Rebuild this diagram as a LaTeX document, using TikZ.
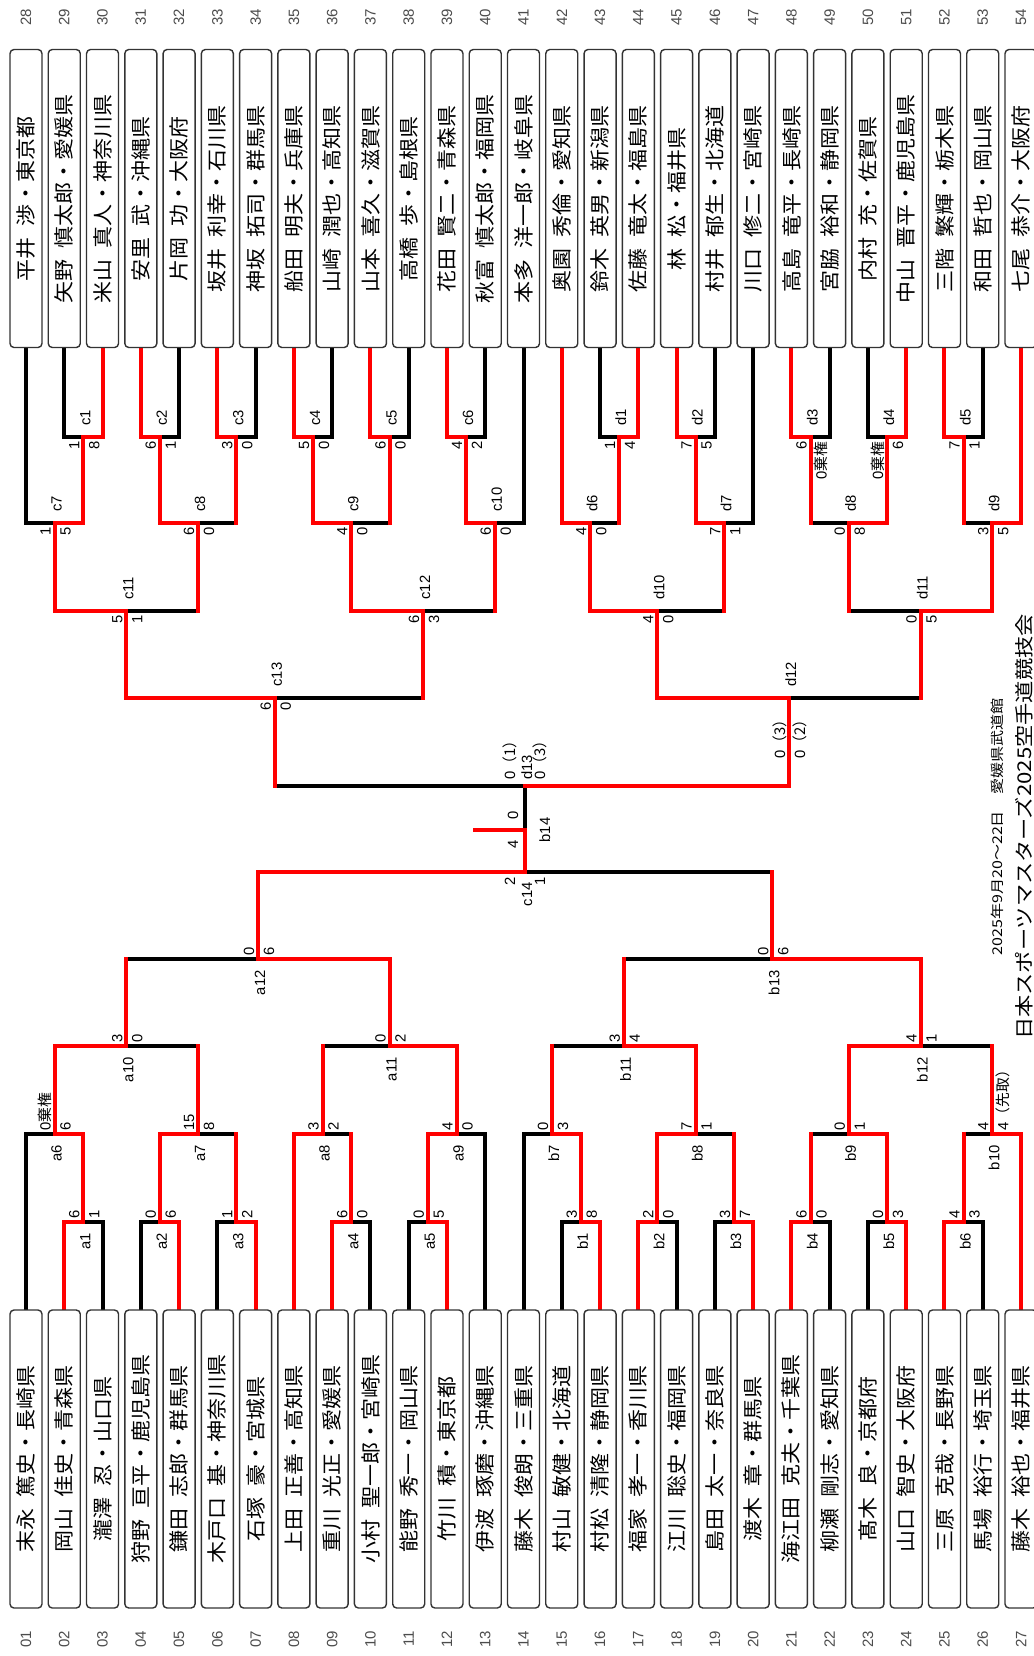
\documentclass[tikz,border=0pt]{standalone}
\usepackage{fontspec}
\usepackage{graphicx}
\setmainfont{Liberation Sans}
\newfontfamily\jp{Noto Sans CJK JP}
\usetikzlibrary{backgrounds}
\newcommand\Lm[3]{%
  \path (#1) ++(-4,-3) node[sc,anchor=base west] (#1-s1) {#2}
        (#1) ++(16,-3) node[sc,anchor=base west] (#1-s2) {#3}
        (#1) ++(7,11) node[sc,anchor=base east] (#1-lb) {#1};}
\newcommand\Rm[3]{%
  \path (#1) ++(-4,4) node[sc,anchor=base east] (#1-s1) {#2}
        (#1) ++(16,4) node[sc,anchor=base east] (#1-s2) {#3}
        (#1) ++(7,-11) node[sc,anchor=base west] (#1-lb) {#1};}
\begin{document}
\begin{tikzpicture}[x=0.5pt,y=-0.5pt,
  blkln/.style={draw=black,line width=2pt,line cap=rect,line join=miter},
  redln/.style={draw=red,line width=2pt,line cap=rect,line join=miter},
  namebox/.style={draw=black!80,fill=white,line width=0.7pt,rounded corners=2pt,rotate=90,
    minimum width=149pt,minimum height=16pt,inner sep=0pt,font=\jp\fontsize{10}{12}\selectfont},
  num/.style={rotate=90,inner sep=0pt,text=black!70,font=\fontsize{7.5}{9}\selectfont},
  sc/.style={rotate=90,inner sep=0pt,font=\fontsize{7.4}{8}\selectfont},
  ttl/.style={rotate=90,inner sep=0pt,font=\jp},
]
\useasboundingbox (0,0) rectangle (1034,1656);

% ---------- name boxes ----------
\foreach \n/\t [count=\i from 0] in {
 01/末永\hspace{.5em}篤史・長崎県, 02/岡山\hspace{.5em}佳史・青森県, 03/瀧澤\hspace{.5em}忍・山口県,
 04/狩野\hspace{.5em}亘平・鹿児島県, 05/鎌田\hspace{.5em}志郎・群馬県, 06/木戸口\hspace{.5em}基・神奈川県,
 07/石塚\hspace{.5em}豪・宮城県, 08/上田\hspace{.5em}正善・高知県, 09/重川\hspace{.5em}光正・愛媛県,
 10/小村\hspace{.5em}聖一郎・宮崎県, 11/能野\hspace{.5em}秀一・岡山県, 12/竹川\hspace{.5em}積・東京都,
 13/伊波\hspace{.5em}琢磨・沖縄県, 14/藤木\hspace{.5em}俊朗・三重県, 15/村山\hspace{.5em}敏健・北海道,
 16/村松\hspace{.5em}清隆・静岡県, 17/福家\hspace{.5em}孝一・香川県, 18/江川\hspace{.5em}聡史・福岡県,
 19/島田\hspace{.5em}太一・奈良県, 20/渡木\hspace{.5em}章・群馬県, 21/海江田\hspace{.5em}克夫・千葉県,
 22/柳瀬\hspace{.5em}剛志・愛知県, 23/髙木\hspace{.5em}良・京都府, 24/山口\hspace{.5em}智史・大阪府,
 25/三原\hspace{.5em}克哉・長野県, 26/馬場\hspace{.5em}裕行・埼玉県, 27/藤木\hspace{.5em}裕也・福井県}
{
  \node[namebox] (n\n) at ({26+\i*38.27},1459) {\scalebox{1.1}[1]{\t}};
  \node[num] (k\n) at ({26+\i*38.27},1639) {\n};
}
\foreach \n/\t [count=\i from 0] in {
 28/平井\hspace{.5em}渉・東京都, 29/矢野\hspace{.5em}慎太郎・愛媛県, 30/米山\hspace{.5em}真人・神奈川県,
 31/安里\hspace{.5em}武・沖縄県, 32/片岡\hspace{.5em}功・大阪府, 33/坂井\hspace{.5em}利幸・石川県,
 34/神坂\hspace{.5em}拓司・群馬県, 35/船田\hspace{.5em}明夫・兵庫県, 36/山崎\hspace{.5em}潤也・高知県,
 37/山本\hspace{.5em}喜久・滋賀県, 38/高橋\hspace{.5em}歩・島根県, 39/花田\hspace{.5em}賢二・青森県,
 40/秋富\hspace{.5em}慎太郎・福岡県, 41/本多\hspace{.5em}洋一郎・岐阜県, 42/奥園\hspace{.5em}秀倫・愛知県,
 43/鈴木\hspace{.5em}英男・新潟県, 44/佐藤\hspace{.5em}竜太・福島県, 45/林\hspace{.5em}松・福井県,
 46/村井\hspace{.5em}郁生・北海道, 47/川口\hspace{.5em}修二・宮崎県, 48/高島\hspace{.5em}竜平・長崎県,
 49/宮脇\hspace{.5em}裕和・静岡県, 50/内村\hspace{.5em}充・佐賀県, 51/中山\hspace{.5em}晋平・鹿児島県,
 52/三階\hspace{.5em}繁輝・栃木県, 53/和田\hspace{.5em}哲也・岡山県, 54/七尾\hspace{.5em}恭介・大阪府}
{
  \node[namebox] (n\n) at ({26+\i*38.27},198.5) {\scalebox{1.1}[1]{\t}};
  \node[num] (k\n) at ({26+\i*38.27},17) {\n};
}

% ---------- junctions ----------
\coordinate (a1) at (83.41,1222);  \coordinate (a2) at (159.95,1222);
\coordinate (a3) at (236.49,1222); \coordinate (a4) at (351.30,1222);
\coordinate (a5) at (427.84,1222);
\coordinate (a6) at (54.70,1134);  \coordinate (a7) at (198.22,1134);
\coordinate (a8) at (322.60,1134); \coordinate (a9) at (456.54,1134);
\coordinate (a10) at (126.46,1046); \coordinate (a11) at (389.57,1046);
\coordinate (a12) at (258.02,959);
\coordinate (b1) at (580.92,1222); \coordinate (b2) at (657.46,1222);
\coordinate (b3) at (734.00,1222); \coordinate (b4) at (810.54,1222);
\coordinate (b5) at (887.08,1222); \coordinate (b6) at (963.62,1222);
\coordinate (b7) at (552.22,1134); \coordinate (b8) at (695.73,1134);
\coordinate (b9) at (848.81,1134); \coordinate (b10) at (992.32,1134);
\coordinate (b11) at (623.97,1046); \coordinate (b12) at (920.57,1046);
\coordinate (b13) at (772.27,959);
\coordinate (c14) at (525,872);
\coordinate (b14) at (525,830); \coordinate (b14s) at (475,830);
\coordinate (d13) at (525,786);
\coordinate (c1) at (83.41,437);  \coordinate (c2) at (159.95,437);
\coordinate (c3) at (236.49,437); \coordinate (c4) at (313.03,437);
\coordinate (c5) at (389.57,437); \coordinate (c6) at (466.11,437);
\coordinate (c7) at (54.70,523);  \coordinate (c8) at (198.22,523);
\coordinate (c9) at (351.30,523); \coordinate (c10) at (494.81,523);
\coordinate (c11) at (126.46,611); \coordinate (c12) at (423.05,611);
\coordinate (c13) at (274.76,698);
\coordinate (d1) at (619.19,437); \coordinate (d2) at (695.73,437);
\coordinate (d3) at (810.54,437); \coordinate (d4) at (887.08,437);
\coordinate (d5) at (963.62,437);
\coordinate (d6) at (590.48,523); \coordinate (d7) at (724.43,523);
\coordinate (d8) at (848.81,523); \coordinate (d9) at (992.32,523);
\coordinate (d10) at (657.46,611); \coordinate (d11) at (920.57,611);
\coordinate (d12) at (789.01,698);

% ---------- bracket lines ----------
\begin{scope}[on background layer]
% black: losing leaves
\draw[blkln] (n01.east) |- (a6)  (n03.east) |- (a1)  (n04.east) |- (a2)
  (n06.east) |- (a3)  (n10.east) |- (a4)  (n11.east) |- (a5)  (n13.east) |- (a9)
  (n14.east) |- (b7)  (n15.east) |- (b1)  (n18.east) |- (b2)  (n19.east) |- (b3)
  (n22.east) |- (b4)  (n23.east) |- (b5)  (n26.east) |- (b6);
\draw[blkln] (n28.west) |- (c7)  (n29.west) |- (c1)  (n32.west) |- (c2)
  (n34.west) |- (c3)  (n36.west) |- (c4)  (n38.west) |- (c5)  (n40.west) |- (c6)
  (n41.west) |- (c10) (n43.west) |- (d1)  (n46.west) |- (d2)  (n47.west) |- (d7)
  (n49.west) |- (d3)  (n50.west) |- (d4)  (n53.west) |- (d5);
% black: losing halves
\draw[blkln] (a3 |- a7) -- (a7)  (a4 |- a8) -- (a8)  (a7 |- a10) -- (a10)
  (a8 |- a11) -- (a11)  (a10 |- a12) -- (a12)  (b3 |- b8) -- (b8)
  (b4 |- b9) -- (b9)  (b6 |- b10) -- (b10)  (b7 |- b11) -- (b11)
  (b10 |- b12) -- (b12)  (b11 |- b13) -- (b13)  (b13 |- c14) -- (c14)
  (c3 |- c8) -- (c8)  (c5 |- c9) -- (c9)  (c8 |- c11) -- (c11)
  (c10 |- c12) -- (c12)  (c12 |- c13) -- (c13)  (c13 |- d13) -- (d13)
  (d1 |- d6) -- (d6)  (d3 |- d8) -- (d8)  (d5 |- d9) -- (d9)
  (d7 |- d10) -- (d10)  (d8 |- d11) -- (d11)  (d11 |- d12) -- (d12)
  (b14) -- (d13);
% red: winning leaves
\draw[redln] (n02.east) |- (a1)  (n05.east) |- (a2)  (n07.east) |- (a3)
  (n08.east) |- (a8)  (n09.east) |- (a4)  (n12.east) |- (a5)  (n16.east) |- (b1)
  (n17.east) |- (b2)  (n20.east) |- (b3)  (n21.east) |- (b4)  (n24.east) |- (b5)
  (n25.east) |- (b6)  (n27.east) |- (b10);
\draw[redln] (n30.west) |- (c1)  (n31.west) |- (c2)  (n33.west) |- (c3)
  (n35.west) |- (c4)  (n37.west) |- (c5)  (n39.west) |- (c6)  (n42.west) |- (d6)
  (n44.west) |- (d1)  (n45.west) |- (d2)  (n48.west) |- (d3)  (n51.west) |- (d4)
  (n52.west) |- (d5)  (n54.west) |- (d9);
% red: advancing verticals
\draw[redln] (a1) -- (a1 |- a6)  (a2) -- (a2 |- a7)  (a3) -- (a3 |- a7)
  (a4) -- (a4 |- a8)  (a5) -- (a5 |- a9)  (a6) -- (a6 |- a10)  (a7) -- (a7 |- a10)
  (a8) -- (a8 |- a11)  (a9) -- (a9 |- a11)  (a10) -- (a10 |- a12)  (a11) -- (a11 |- a12)
  (a12) -- (a12 |- c14)
  (b1) -- (b1 |- b7)  (b2) -- (b2 |- b8)  (b3) -- (b3 |- b8)  (b4) -- (b4 |- b9)
  (b5) -- (b5 |- b9)  (b6) -- (b6 |- b10)  (b7) -- (b7 |- b11)  (b8) -- (b8 |- b11)
  (b9) -- (b9 |- b12)  (b10) -- (b10 |- b12)  (b11) -- (b11 |- b13)  (b12) -- (b12 |- b13)
  (b13) -- (b13 |- c14)
  (c1) -- (c1 |- c7)  (c2) -- (c2 |- c8)  (c3) -- (c3 |- c8)  (c4) -- (c4 |- c9)
  (c5) -- (c5 |- c9)  (c6) -- (c6 |- c10)  (c7) -- (c7 |- c11)  (c8) -- (c8 |- c11)
  (c9) -- (c9 |- c12)  (c10) -- (c10 |- c12)  (c11) -- (c11 |- c13)  (c12) -- (c12 |- c13)
  (c13) -- (c13 |- d13)
  (d1) -- (d1 |- d6)  (d2) -- (d2 |- d7)  (d3) -- (d3 |- d8)  (d4) -- (d4 |- d8)
  (d5) -- (d5 |- d9)  (d6) -- (d6 |- d10)  (d7) -- (d7 |- d10)  (d8) -- (d8 |- d11)
  (d9) -- (d9 |- d11)  (d10) -- (d10 |- d12)  (d11) -- (d11 |- d12)
  (d12) -- (d12 |- d13);
% red: winning halves
\draw[redln] (a1 |- a6) -- (a6)  (a2 |- a7) -- (a7)  (a5 |- a9) -- (a9)
  (a6 |- a10) -- (a10)  (a9 |- a11) -- (a11)  (a11 |- a12) -- (a12)
  (a12 |- c14) -- (c14)  (b1 |- b7) -- (b7)  (b2 |- b8) -- (b8)
  (b5 |- b9) -- (b9)  (b8 |- b11) -- (b11)  (b9 |- b12) -- (b12)
  (b12 |- b13) -- (b13)
  (c1 |- c7) -- (c7)  (c2 |- c8) -- (c8)  (c4 |- c9) -- (c9)  (c6 |- c10) -- (c10)
  (c7 |- c11) -- (c11)  (c9 |- c12) -- (c12)  (c11 |- c13) -- (c13)
  (d2 |- d7) -- (d7)  (d4 |- d8) -- (d8)  (d6 |- d10) -- (d10)  (d9 |- d11) -- (d11)
  (d10 |- d12) -- (d12)  (d12 |- d13) -- (d13)
  (c14) -- (b14)  (b14s) -- (b14);
\end{scope}

% ---------- scores and match labels ----------
\Lm{a1}{6}{1}   \Lm{a2}{0}{6}   \Lm{a3}{1}{2}   \Lm{a4}{6}{0}   \Lm{a5}{0}{5}
\Lm{a6}{0{\jp 棄権}}{6}  \Lm{a7}{15}{8}  \Lm{a8}{3}{2}  \Lm{a9}{4}{0}
\Lm{a10}{3}{0}  \Lm{a11}{0}{2}  \Lm{a12}{0}{6}
\Lm{b1}{3}{8}   \Lm{b2}{2}{0}   \Lm{b3}{3}{7}   \Lm{b4}{6}{0}   \Lm{b5}{0}{3}
\Lm{b6}{4}{3}   \Lm{b7}{0}{3}   \Lm{b8}{7}{1}   \Lm{b9}{0}{1}
\Lm{b10}{4}{4{\jp （先取）}}
\Lm{b11}{3}{4}  \Lm{b12}{4}{1}  \Lm{b13}{0}{6}
\Rm{c1}{1}{8}   \Rm{c2}{6}{1}   \Rm{c3}{3}{0}   \Rm{c4}{5}{0}   \Rm{c5}{6}{0}
\Rm{c6}{4}{2}   \Rm{c7}{1}{5}   \Rm{c8}{6}{0}   \Rm{c9}{4}{0}   \Rm{c10}{6}{0}
\Rm{c11}{5}{1}  \Rm{c12}{6}{3}  \Rm{c13}{6}{0}
\Rm{d1}{1}{4}   \Rm{d2}{7}{5}   \Rm{d3}{6}{0{\jp 棄権}}  \Rm{d4}{0{\jp 棄権}}{6}
\Rm{d5}{7}{1}   \Rm{d6}{4}{0}   \Rm{d7}{7}{1}   \Rm{d8}{0}{8}   \Rm{d9}{3}{5}
\Rm{d10}{4}{0}  \Rm{d11}{0}{5}
% d12
\path (d12) ++(-4,14) node[sc,anchor=base east] (d12-s1) {0{\jp （3）}}
      (d12) ++(16,14) node[sc,anchor=base east] (d12-s2) {0{\jp （2）}}
      (d12) ++(7,-11) node[sc,anchor=base west] (d12-lb) {d12};
% d13
\path (d13) ++(-10,-6) node[sc,anchor=base west] (d13-s1) {0{\jp （1）}}
      (d13) ++(7,-6) node[sc,anchor=base west] (d13-lb) {d13}
      (d13) ++(20,-6) node[sc,anchor=base west] (d13-s2) {0{\jp （3）}};
% c14
\path (c14) ++(-10,5) node[sc,anchor=base east] (c14-s1) {2}
      (c14) ++(7,10) node[sc,anchor=base east] (c14-lb) {c14}
      (c14) ++(20,5) node[sc,anchor=base east] (c14-s2) {1};
% b14
\node[sc,anchor=base] (b14-s1) at (518,815) {0};
\node[sc,anchor=base] (b14-s2) at (518,844) {4};
\node[sc,anchor=base] (b14-lb) at (550,830) {b14};

% ---------- titles ----------
\node[ttl,font=\jp\fontsize{6.75}{8}\selectfont,xscale=1.19] (t1) at (997,827) {2025年9月20〜22日\hspace{1em}愛媛県武道館};
\node[ttl,font=\jp\fontsize{9.5}{11}\selectfont,xscale=1.17] (t2) at (1024,827) {日本スポーツマスターズ2025空手道競技会};
\end{tikzpicture}
\end{document}
